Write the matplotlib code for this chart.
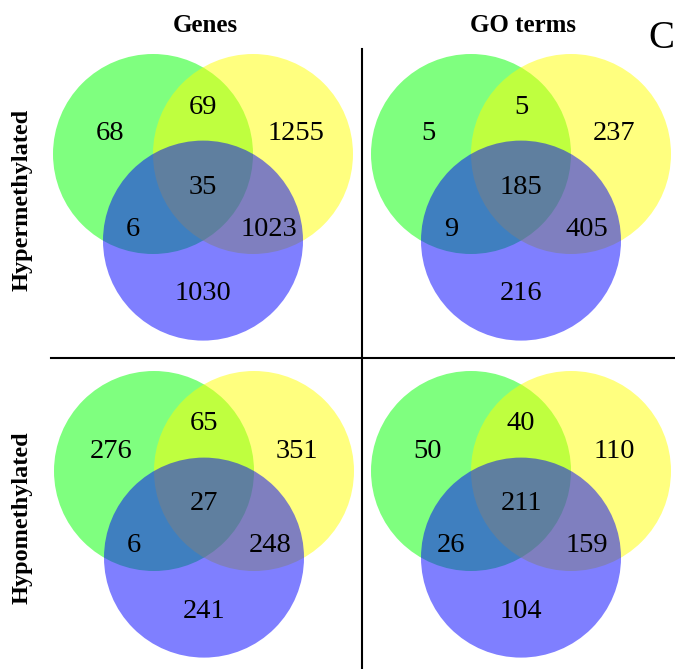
import matplotlib.pyplot as plt
from matplotlib.patches import Circle

# Region counts, order: A only, A&B, B only, A&B&C, A&C, B&C, C only
genes_hyper = [68, 69, 1255, 35, 6, 1023, 1030]
go_hyper = [5, 5, 237, 185, 9, 405, 216]
genes_hypo = [276, 65, 351, 27, 6, 248, 241]
go_hypo = [50, 40, 110, 211, 26, 159, 104]

col_titles = ["Genes", "GO terms"]
row_titles = ["Hypermethylated", "Hypomethylated"]

R = 100  # circle radius, pixels
# label offsets from the green circle centre, in radius units
label_offsets = [(-0.43, -0.22), (0.50, -0.49), (1.43, -0.22), (0.50, 0.31),
                 (-0.20, 0.73), (1.16, 0.73), (0.50, 1.38)]
circle_offsets = [(0.0, 0.0), (1.0, 0.0), (0.5, 0.866)]
circle_colors = ["#00ff00", "#ffff00", "#0000ff"]

SERIF = ["Liberation Serif", "DejaVu Serif"]

fig = plt.figure(figsize=(6.75, 6.69), dpi=100)
ax = fig.add_axes([0, 0, 1, 1])
ax.set_xlim(0, 675)
ax.set_ylim(669, 0)
ax.set_aspect("equal")
ax.axis("off")


def draw_venn(gx, gy, counts):
    for (dx, dy), c in zip(circle_offsets, circle_colors):
        ax.add_patch(Circle((gx + dx * R, gy + dy * R), R, facecolor=c,
                            edgecolor="none", alpha=0.5))
    for (dx, dy), n in zip(label_offsets, counts):
        ax.text(gx + dx * R, gy + dy * R + 2, str(n), ha="center", va="center",
                fontsize=20.5, family=SERIF, color="black")


draw_venn(153, 154, genes_hyper)
draw_venn(471, 154, go_hyper)
draw_venn(154, 471, genes_hypo)
draw_venn(471, 471, go_hypo)

# column / row headings
ax.text(205, 25, col_titles[0], ha="center", va="center", fontsize=18,
        fontweight="bold", family=SERIF)
ax.text(523, 25, col_titles[1], ha="center", va="center", fontsize=18,
        fontweight="bold", family=SERIF)
ax.text(22, 200, row_titles[0], ha="center", va="center", rotation=90,
        fontsize=17.5, fontweight="bold", family=SERIF)
ax.text(22, 518, row_titles[1], ha="center", va="center", rotation=90,
        fontsize=17.5, fontweight="bold", family=SERIF)
ax.text(648, 38, "C", ha="left", va="center", fontsize=28, family=SERIF)

# dividers between panels
ax.plot([51, 675], [358, 358], color="black", lw=1.5)
ax.plot([362, 362], [49, 669], color="black", lw=1.5)

fig.savefig("out.png", dpi=100)
